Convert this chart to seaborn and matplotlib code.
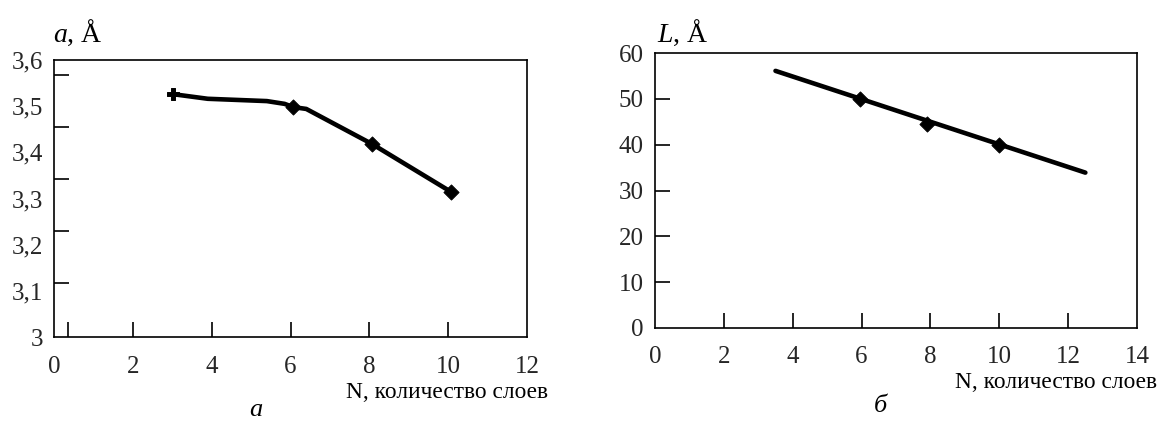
import matplotlib
matplotlib.use("Agg")
import matplotlib.pyplot as plt
import seaborn as sns
import pandas as pd

# ---- data (left panel: lattice parameter a vs N) ----
a_curve_n = [3.02, 3.9, 5.4, 5.85, 6.07, 6.4, 8.07, 10.08]
a_curve_val = [3.526, 3.516, 3.511, 3.505, 3.498, 3.494, 3.418, 3.314]
a_point_n = [6.07, 8.07, 10.08]
a_point_val = [3.498, 3.418, 3.314]
a_first_n = [3.02]
a_first_val = [3.526]

# ---- data (right panel: L vs N) ----
L_curve_n = [3.5, 12.5]
L_curve_val = [56.1, 33.9]
L_point_n = [5.95, 7.9, 10.0]
L_point_val = [50.0, 44.6, 40.0]

# ---- tick labels ----
left_xticks = [0, 2, 4, 6, 8, 10, 12]
left_xticklabels = ["0", "2", "4", "6", "8", "10", "12"]
left_yticks = [3.0, 3.1, 3.2, 3.3, 3.4, 3.5, 3.6]
left_yticklabels = ["3", "3,1", "3,2", "3,3", "3,4", "3,5", "3,6"]
left_xmarks = [0.36, 2, 4, 6, 8, 10]
left_ymarks = [3.117, 3.2296, 3.342, 3.455, 3.5675]

right_xticks = [0, 2, 4, 6, 8, 10, 12, 14]
right_xticklabels = ["0", "2", "4", "6", "8", "10", "12", "14"]
right_yticks = [0, 10, 20, 30, 40, 50, 60]
right_yticklabels = ["0", "10", "20", "30", "40", "50", "60"]
right_xmarks = [2, 4, 6, 8, 10, 12]
right_ymarks = [10, 20, 30, 40, 50]

sns.set_theme(style="white")
plt.rcParams["font.family"] = ["Liberation Serif", "DejaVu Serif"]
plt.rcParams["mathtext.fontset"] = "custom"
plt.rcParams["mathtext.rm"] = "Liberation Serif"
plt.rcParams["mathtext.it"] = "Liberation Serif:italic"

W, H = 1159, 426
fig = plt.figure(figsize=(W / 100, H / 100), dpi=100)
fig.patch.set_facecolor("white")

def px_axes(l, t, r, b):
    return fig.add_axes([l / W, 1 - b / H, (r - l) / W, (b - t) / H])

ax1 = px_axes(54, 60, 527, 337)
ax2 = px_axes(655, 53, 1137, 328)

FS = 18
LW = 3.3

# left panel
sns.lineplot(x=a_curve_n, y=a_curve_val, ax=ax1, color="black", lw=LW)
sns.scatterplot(x=a_point_n, y=a_point_val, ax=ax1, color="black", marker="D", s=60, edgecolor="black")
sns.scatterplot(x=a_first_n, y=a_first_val, ax=ax1, color="black", marker="P", s=75, edgecolor="black")
ax1.set_xlim(0, 12)
ax1.set_ylim(3.0, 3.6)
ax1.set_xticks(left_xticks)
ax1.set_xticklabels(left_xticklabels)
ax1.set_yticks(left_yticks)
ax1.set_yticklabels(left_yticklabels)
ax1.set_xticks(left_xmarks, minor=True)
ax1.set_yticks(left_ymarks, minor=True)
ax1.tick_params(axis="x", which="major", length=0, pad=14, labelsize=FS)
ax1.tick_params(axis="y", which="major", length=0, pad=8, labelsize=FS)

# right panel
sns.lineplot(x=L_curve_n, y=L_curve_val, ax=ax2, color="black", lw=LW)
sns.scatterplot(x=L_point_n, y=L_point_val, ax=ax2, color="black", marker="D", s=60, edgecolor="black")
ax2.set_xlim(0, 14)
ax2.set_ylim(0, 60)
ax2.set_xticks(right_xticks)
ax2.set_xticklabels(right_xticklabels)
ax2.set_yticks(right_yticks)
ax2.set_yticklabels(right_yticklabels)
ax2.set_xticks(right_xmarks, minor=True)
ax2.set_yticks(right_ymarks, minor=True)
ax2.tick_params(axis="x", which="major", length=0, pad=13, labelsize=FS)
ax2.tick_params(axis="y", which="major", length=0, pad=8, labelsize=FS)

for ax in (ax1, ax2):
    ax.xaxis.remove_overlapping_locs = False
    ax.yaxis.remove_overlapping_locs = False
    ax.tick_params(which="minor", direction="in", length=10.5, width=1.2, color="black")
    ax.tick_params(axis="x", which="minor", bottom=True)
    ax.tick_params(axis="y", which="minor", left=True)
    for s in ax.spines.values():
        s.set_visible(True)
        s.set_color("black")
        s.set_linewidth(1.2)
    ax.set_xlabel("")
    ax.set_ylabel("")
    ax.grid(False)
    ax.set_facecolor("white")

# axis titles
fig.text(53 / W, 1 - 33 / H, "$a$, Å", fontsize=20, ha="left", va="center", color="black")
fig.text(657 / W, 1 - 33 / H, "$L$, Å", fontsize=20, ha="left", va="center", color="black")
fig.text(548 / W, 1 - 393 / H, "N, количество слоев", fontsize=16.8, ha="right", va="center", color="black")
fig.text(1157 / W, 1 - 383 / H, "N, количество слоев", fontsize=16.8, ha="right", va="center", color="black")
fig.text(256 / W, 1 - 410 / H, "а", fontsize=19, style="italic", ha="center", va="center", color="black")
fig.text(880 / W, 1 - 406 / H, "б", fontsize=19, style="italic", ha="center", va="center", color="black")

fig.savefig("out.png", dpi=100, facecolor="white")
